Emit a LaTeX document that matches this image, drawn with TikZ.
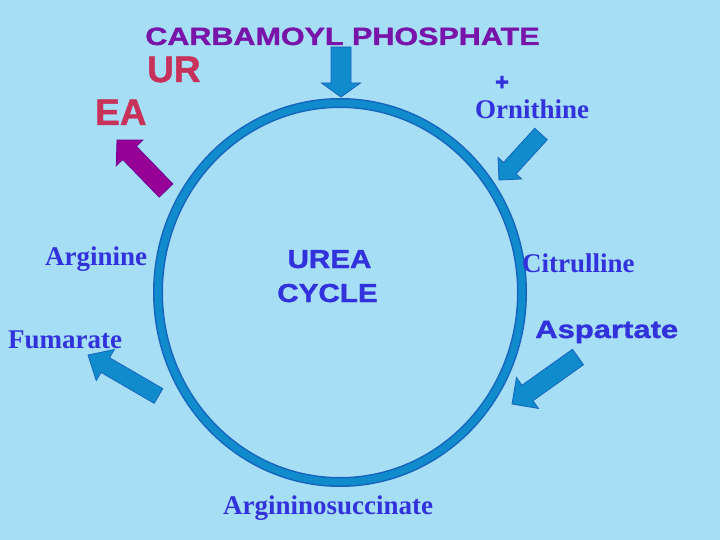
\documentclass[tikz,border=0pt]{standalone}
\usepackage{fontspec}
\setmainfont{Liberation Serif}
\newfontfamily\arialf{Liberation Sans Bold}[FakeBold=1.2]
\usetikzlibrary{calc}
\definecolor{bg}{RGB}{166,222,246}
\definecolor{ringfill}{RGB}{16,140,204}
\definecolor{ringedge}{RGB}{22,100,190}
\definecolor{titlepurple}{RGB}{120,20,170}
\definecolor{ureared}{RGB}{200,50,90}
\definecolor{labelblue}{RGB}{50,50,220}
\definecolor{arrowpurple}{RGB}{150,0,150}
\definecolor{arrowpurpleedge}{RGB}{110,0,150}
\newcommand{\blockarrow}[6]{%
  \coordinate (ba-h) at ($(#3)!#6!(#2)$);
  \draw[#1] ($(#2)!{#4/2}!90:(#3)$) -- ($(ba-h)!{#4/2}!90:(#3)$) -- ($(ba-h)!{#5/2}!90:(#3)$) -- (#3)
    -- ($(ba-h)!{#5/2}!-90:(#3)$) -- ($(ba-h)!{#4/2}!-90:(#3)$) -- ($(#2)!{#4/2}!-90:(#3)$) -- cycle;
}
\begin{document}
\begin{tikzpicture}[x=1pt,y=-1pt,
  bluearrow/.style={fill=ringfill,draw=ringedge,line width=0.8pt,line join=miter},
  purplearrow/.style={fill=arrowpurple,draw=arrowpurpleedge,line width=0.8pt,line join=miter},
  serlabel/.style={anchor=base west,inner sep=0pt,text=labelblue,font=\fontsize{27}{27}\selectfont\bfseries},
  sanslabel/.style={inner sep=0pt,font=\arialf},
]
\fill[bg] (0,0) rectangle (720,540);
\useasboundingbox (0,0) rectangle (720,540);

% ring
\draw[ringedge,line width=10pt] (340,292.5) ellipse [x radius=182pt, y radius=189.5pt];
\draw[ringfill,line width=7pt] (340,292.5) ellipse [x radius=182pt, y radius=189.5pt];

% texts
\node[sanslabel,anchor=base,text=titlepurple] (title) at (342.5,45)
  {\fontsize{25}{25}\selectfont\scalebox{1.22}[1]{CARBAMOYL PHOSPHATE}};
\node[sanslabel,anchor=base west,text=ureared] (ur) at (147,82)
  {\fontsize{37}{37}\selectfont UR};
\node[sanslabel,anchor=base west,text=ureared] (ea) at (95,125)
  {\fontsize{37}{37}\selectfont EA};
\node[sanslabel,text=labelblue] (plus) at (502,83)
  {\fontsize{24}{24}\selectfont +};
\node[serlabel] (orn) at (475,119) {Ornithine};
\node[serlabel] (arg) at (45,265) {Arginine};
\node[serlabel] (cit) at (522,272) {Citrulline};
\node[serlabel] (fum) at (8,348) {Fumarate};
\node[serlabel] (argsuc) at (223,514) {Argininosuccinate};
\node[sanslabel,anchor=base,text=labelblue] (urea) at (329.5,268)
  {\fontsize{26}{26}\selectfont\scalebox{1.14}[1]{UREA}};
\node[sanslabel,anchor=base,text=labelblue] (cycle) at (327.5,302)
  {\fontsize{26}{26}\selectfont\scalebox{1.14}[1]{CYCLE}};
\node[sanslabel,anchor=base west,text=labelblue] (asp) at (535,338)
  {\fontsize{25}{25}\selectfont\scalebox{1.24}[1]{Aspartate}};

% arrows
\coordinate (cpTail) at (341,47);   \coordinate (cpTip) at (341,97);
\coordinate (ornTail) at (541,134); \coordinate (ornTip) at (499,180);
\coordinate (aspTail) at (578,357); \coordinate (aspTip) at (512,404);
\coordinate (fumTail) at (158.5,396); \coordinate (fumTip) at (88,355);
\coordinate (ureaTail) at (166,190.5); \coordinate (ureaTip) at (117,140);

\blockarrow{bluearrow}{cpTail}{cpTip}{20pt}{39pt}{14pt}
\blockarrow{bluearrow}{ornTail}{ornTip}{17pt}{32pt}{16pt}
\blockarrow{bluearrow}{aspTail}{aspTip}{19pt}{38pt}{19pt}
\blockarrow{bluearrow}{fumTail}{fumTip}{17pt}{36pt}{20pt}
\blockarrow{purplearrow}{ureaTail}{ureaTip}{19pt}{37pt}{18pt}
\end{tikzpicture}
\end{document}
